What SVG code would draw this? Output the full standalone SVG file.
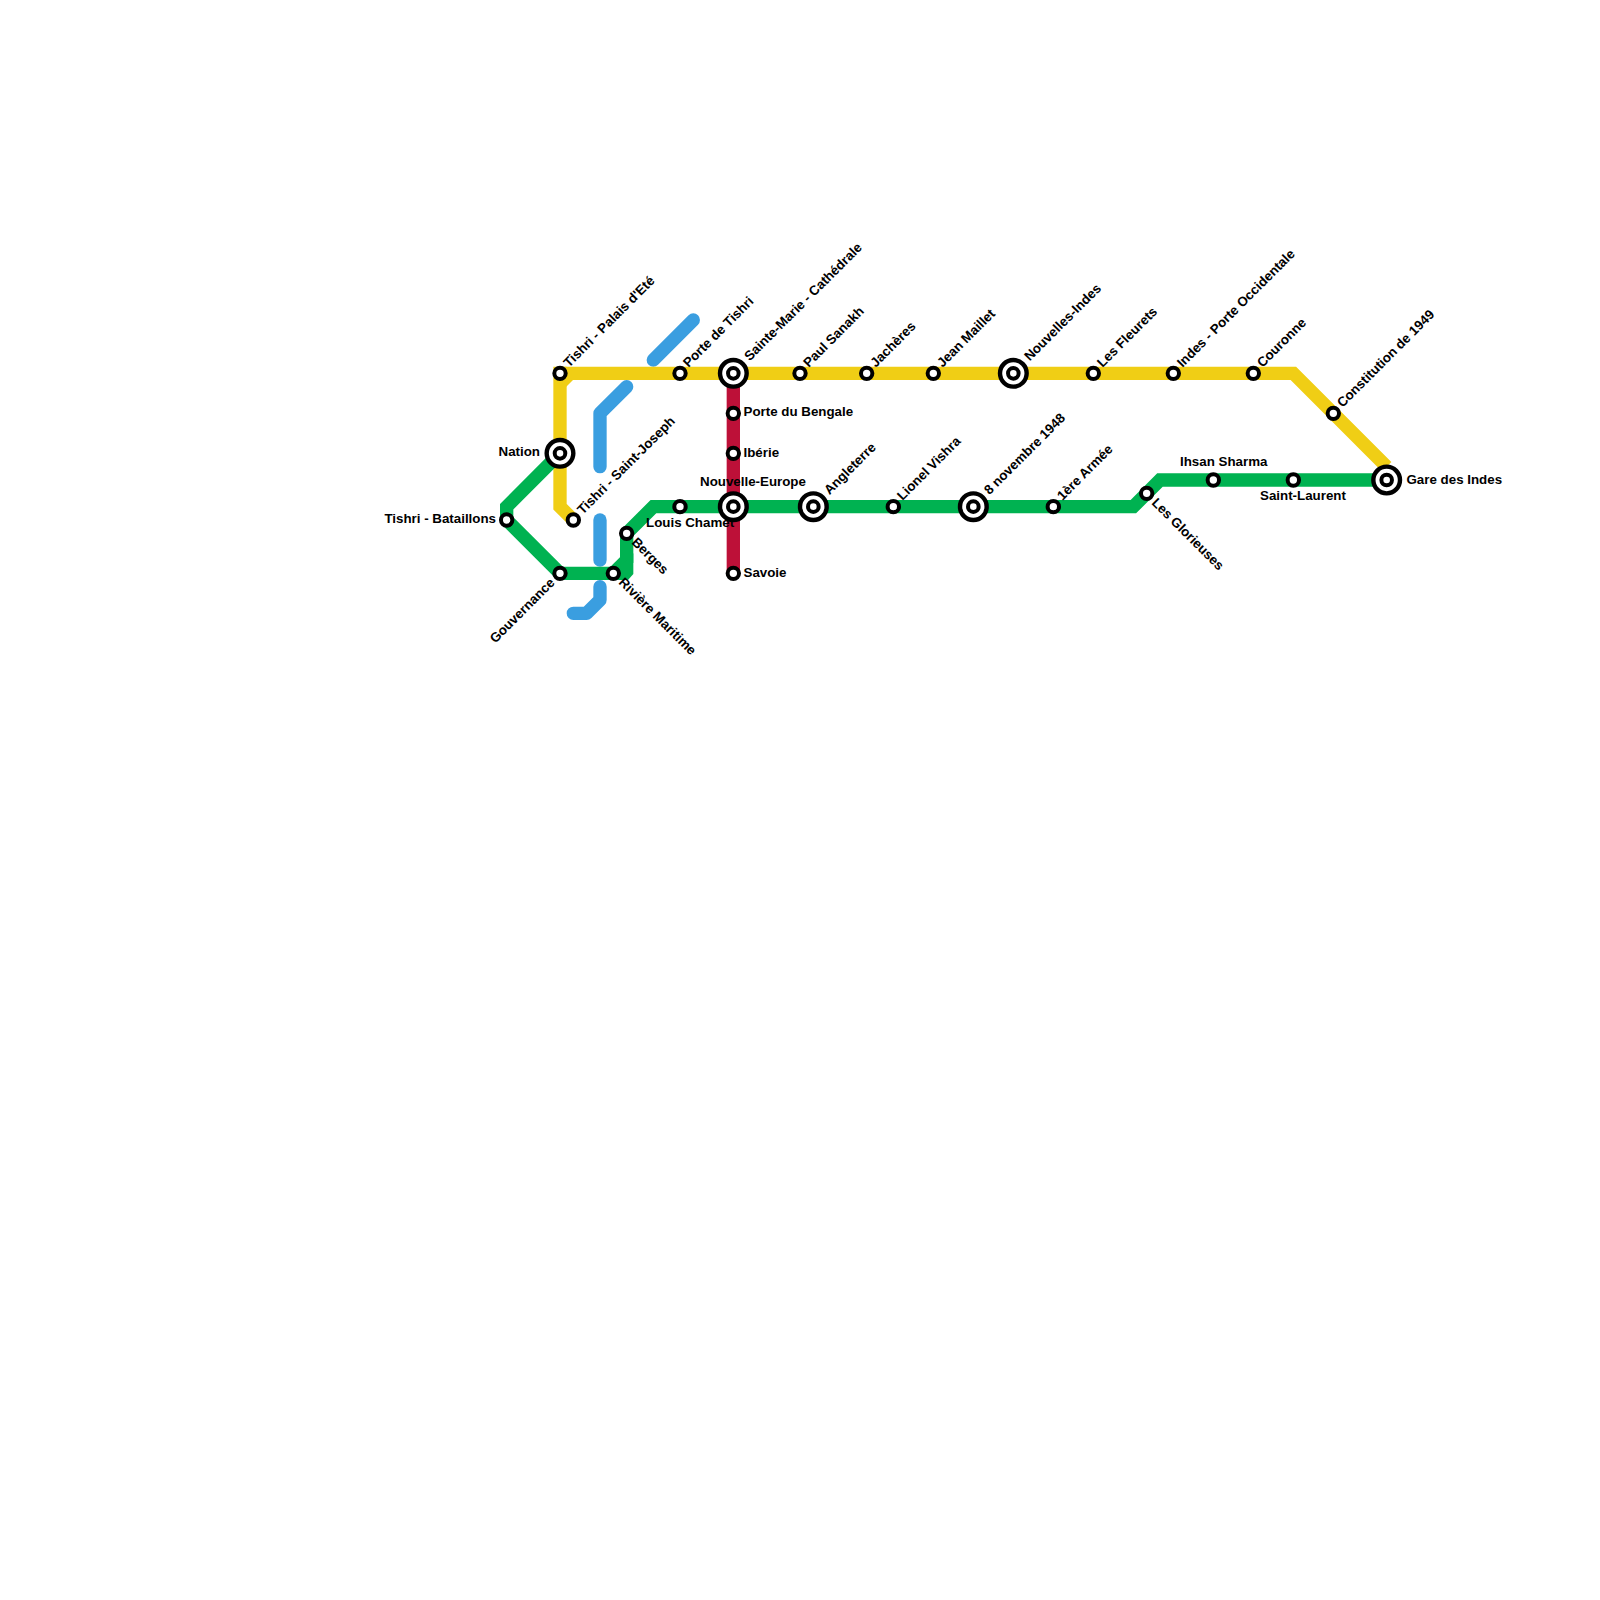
<svg xmlns="http://www.w3.org/2000/svg" width="1600" height="1600" viewBox="0 0 1600 1600">
<style>
.l{fill:none;stroke-width:13.33;stroke-linejoin:miter}
.y{stroke:#f0ce15}.g{stroke:#00b251}.r{stroke:#bd1038}
.b{stroke:#3a9ee0;stroke-linecap:round;stroke-linejoin:round}
.s{fill:#fff;stroke:#000;stroke-width:4}
.o{fill:#fff;stroke:#000;stroke-width:4.4}
text{font-family:"Liberation Sans",Arial,sans-serif;font-weight:700;font-size:13.33px;fill:#000}
</style>
<rect width="1600" height="1600" fill="#fff"/>
<g id="connectors">
<path class="l b" d="M653.3 360L693.3 320"/>
<path class="l b" d="M626.67 386.67L600 413.33V466.67"/>
<path class="l b" d="M600 520V560"/>
<path class="l b" d="M600 586.67V600L586.67 613.33H573.33"/>
<path class="l r" d="M733.33 373.33V573.33"/>
<path class="l y" d="M560 373.33H1293.33L1386.67 466.67"/>
<path class="l y" d="M560 366.67V506.67L573.33 520"/>
<path d="M566 379H574L566 387Z" fill="#f0ce15"/>
<path class="l g" d="M560 453.33L506.67 506.67V520L560 573.33H613.33L626.67 560V533.33L653.33 506.67H1133.33L1160 480H1386.67"/>
<path d="M613.33 566.67H620L633.33 553.33V574L628 580H613.33Z" fill="#00b251"/>
</g>
<g id="n1"><circle class="s" cx="560" cy="373.33" r="5.7"/><text transform="translate(569 368) rotate(-45)">Tishri - Palais d'Eté</text></g>
<g id="n2"><circle class="s" cx="680" cy="373.33" r="5.7"/><text transform="translate(688.5 368) rotate(-45)">Porte de Tishri</text></g>
<g id="n3"><circle class="o" cx="733.33" cy="373.33" r="13.33"/><circle class="s" cx="733.33" cy="373.33" r="5.3"/><text transform="translate(749.7 361.5) rotate(-45)">Sainte-Marie - Cathédrale</text></g>
<g id="n4"><circle class="s" cx="800" cy="373.33" r="5.7"/><text transform="translate(808.7 368) rotate(-45)">Paul Sanakh</text></g>
<g id="n5"><circle class="s" cx="866.67" cy="373.33" r="5.7"/><text transform="translate(875.7 368) rotate(-45)">Jachères</text></g>
<g id="n6"><circle class="s" cx="933.33" cy="373.33" r="5.7"/><text transform="translate(942.5 368) rotate(-45)">Jean Maillet</text></g>
<g id="n7"><circle class="o" cx="1013.33" cy="373.33" r="13.33"/><circle class="s" cx="1013.33" cy="373.33" r="5.3"/><text transform="translate(1029.7 361.5) rotate(-45)">Nouvelles-Indes</text></g>
<g id="n8"><circle class="s" cx="1093.33" cy="373.33" r="5.7"/><text transform="translate(1102.5 368) rotate(-45)">Les Fleurets</text></g>
<g id="n9"><circle class="s" cx="1173.33" cy="373.33" r="5.7"/><text transform="translate(1182.5 368) rotate(-45)">Indes - Porte Occidentale</text></g>
<g id="n10"><circle class="s" cx="1253.33" cy="373.33" r="5.7"/><text transform="translate(1262.5 368) rotate(-45)">Couronne</text></g>
<g id="n11"><circle class="s" cx="1333.33" cy="413.33" r="5.7"/><text transform="translate(1342.5 408) rotate(-45)">Constitution de 1949</text></g>
<g id="n12"><circle class="o" cx="1386.67" cy="480" r="13.33"/><circle class="s" cx="1386.67" cy="480" r="5.3"/><text x="1406.5" y="483.5">Gare des Indes</text></g>
<g id="n13"><circle class="s" cx="1293.33" cy="480" r="5.7"/><text x="1260" y="499.7">Saint-Laurent</text></g>
<g id="n14"><circle class="s" cx="1213.33" cy="480" r="5.7"/><text x="1180" y="465.7">Ihsan Sharma</text></g>
<g id="n15"><circle class="s" cx="1146.67" cy="493.33" r="5.7"/><text transform="translate(1151 503.5) rotate(45)">Les Glorieuses</text></g>
<g id="n16"><circle class="s" cx="1053.33" cy="506.67" r="5.7"/><text transform="translate(1062.5 501) rotate(-45)">1ère Armée</text></g>
<g id="n17"><circle class="o" cx="973.33" cy="506.67" r="13.33"/><circle class="s" cx="973.33" cy="506.67" r="5.3"/><text transform="translate(989.5 495.3) rotate(-45)">8 novembre 1948</text></g>
<g id="n18"><circle class="s" cx="893.33" cy="506.67" r="5.7"/><text transform="translate(902.5 501) rotate(-45)">Lionel Vishra</text></g>
<g id="n19"><circle class="o" cx="813.33" cy="506.67" r="13.33"/><circle class="s" cx="813.33" cy="506.67" r="5.3"/><text transform="translate(829.5 495.3) rotate(-45)">Angleterre</text></g>
<g id="n20"><circle class="o" cx="733.33" cy="506.67" r="13.33"/><circle class="s" cx="733.33" cy="506.67" r="5.3"/><text x="700" y="486">Nouvelle-Europe</text></g>
<g id="n21"><circle class="s" cx="680" cy="506.67" r="5.7"/><text x="646" y="527">Louis Chamet</text></g>
<g id="n22"><circle class="s" cx="626.67" cy="533.33" r="5.7"/><text transform="translate(631 543) rotate(45)">Berges</text></g>
<g id="n23"><circle class="s" cx="613.33" cy="573.33" r="5.7"/><text transform="translate(618 583) rotate(45)">Rivière Maritime</text></g>
<g id="n24"><circle class="s" cx="560" cy="573.33" r="5.7"/><text text-anchor="end" transform="translate(555.5 583.5) rotate(-45)">Gouvernance</text></g>
<g id="n25"><circle class="s" cx="506.67" cy="520" r="5.7"/><text x="496" y="522.7" text-anchor="end">Tishri - Bataillons</text></g>
<g id="n26"><circle class="s" cx="573.33" cy="520" r="5.7"/><text transform="translate(582.7 515) rotate(-45)">Tishri - Saint-Joseph</text></g>
<g id="n27"><circle class="o" cx="560" cy="453.33" r="13.33"/><circle class="s" cx="560" cy="453.33" r="5.3"/><text x="540" y="456" text-anchor="end">Nation</text></g>
<g id="n28"><circle class="s" cx="733.33" cy="413.33" r="5.7"/><text x="743.5" y="416">Porte du Bengale</text></g>
<g id="n29"><circle class="s" cx="733.33" cy="453.33" r="5.7"/><text x="743.5" y="456.5">Ibérie</text></g>
<g id="n30"><circle class="s" cx="733.33" cy="573.33" r="5.7"/><text x="743.5" y="576.5">Savoie</text></g>
</svg>
